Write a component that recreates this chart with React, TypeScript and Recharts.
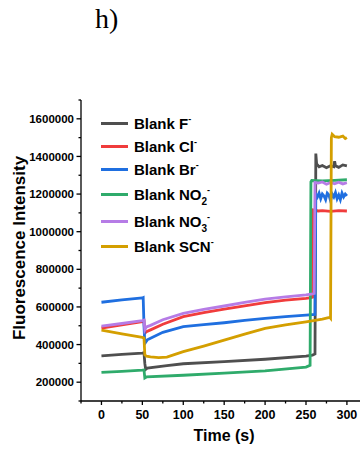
import React from "react";
import { LineChart, Line, XAxis, YAxis } from "recharts";

// time (s) / intensity pairs
const fTime = [0, 25, 50, 52, 53, 54, 56, 80, 100, 150, 200, 250, 258, 261, 262, 263, 266, 270, 275, 280, 284, 285, 286, 290, 295, 300];
const fValue = [340000, 348000, 355000, 357000, 300000, 268000, 275000, 288000, 298000, 309000, 322000, 339000, 344000, 350000, 1415000, 1360000, 1345000, 1352000, 1340000, 1350000, 1345000, 1375000, 1350000, 1342000, 1355000, 1350000];

const clTime = [0, 25, 50, 52, 53, 55, 60, 75, 100, 125, 150, 175, 200, 225, 250, 256, 258, 259, 265, 270, 280, 290, 300];
const clValue = [488000, 505000, 522000, 525000, 460000, 468000, 478000, 508000, 548000, 570000, 588000, 606000, 623000, 636000, 646000, 650000, 652000, 1115000, 1110000, 1112000, 1108000, 1112000, 1110000];

const brTime = [0, 25, 50, 51, 52, 53, 56, 60, 75, 100, 125, 150, 175, 200, 225, 250, 261, 262, 264, 266, 268, 270, 272, 274, 276, 278, 280, 282, 284, 286, 288, 290, 292, 294, 296, 298, 300];
const brValue = [625000, 637000, 648000, 650000, 500000, 406000, 425000, 434000, 465000, 495000, 506000, 516000, 528000, 539000, 548000, 557000, 560000, 1200000, 1185000, 1205000, 1175000, 1200000, 1190000, 1170000, 1205000, 1195000, 1165000, 1200000, 1185000, 1208000, 1175000, 1195000, 1170000, 1205000, 1185000, 1200000, 1190000];

const no2Time = [0, 25, 50, 52, 53, 55, 100, 150, 200, 250, 255, 256, 257, 270, 285, 300];
const no2Value = [252000, 258000, 264000, 265000, 223000, 228000, 237000, 248000, 260000, 280000, 290000, 1265000, 1272000, 1270000, 1273000, 1276000];

const no3Time = [0, 25, 50, 52, 53, 55, 60, 75, 100, 125, 150, 175, 200, 225, 250, 258, 260, 261, 265, 270, 275, 280, 285, 290, 295, 300];
const no3Value = [498000, 512000, 527000, 530000, 478000, 494000, 502000, 532000, 566000, 587000, 605000, 624000, 641000, 654000, 664000, 670000, 672000, 1262000, 1258000, 1264000, 1252000, 1262000, 1255000, 1263000, 1254000, 1260000];

const scnTime = [0, 25, 50, 52, 53, 55, 60, 70, 80, 100, 125, 150, 175, 200, 225, 250, 270, 279, 280, 281, 282, 285, 290, 295, 298, 300];
const scnValue = [477000, 457000, 438000, 435000, 345000, 338000, 335000, 331000, 333000, 362000, 392000, 424000, 455000, 486000, 505000, 521000, 535000, 545000, 540000, 1500000, 1518000, 1505000, 1502000, 1508000, 1495000, 1500000];

const xTicks = [-25, 0, 25, 50, 75, 100, 125, 150, 175, 200, 225, 250, 275, 300];
const xMajor = [0, 50, 100, 150, 200, 250, 300];
const yTicks = [100000, 200000, 300000, 400000, 500000, 600000, 700000, 800000, 900000, 1000000, 1100000, 1200000, 1300000, 1400000, 1500000, 1600000, 1700000];
const yMajor = [200000, 400000, 600000, 800000, 1000000, 1200000, 1400000, 1600000];

const toRows = (t: number[], v: number[]) => t.map((x, i) => ({ t: x, v: v[i] }));

const series = [
  { key: "F", color: "#4f4f4f", data: toRows(fTime, fValue) },
  { key: "Cl", color: "#f03c3c", data: toRows(clTime, clValue) },
  { key: "Br", color: "#1f6fe0", data: toRows(brTime, brValue) },
  { key: "NO2", color: "#2fab6b", data: toRows(no2Time, no2Value) },
  { key: "NO3", color: "#b67ce6", data: toRows(no3Time, no3Value) },
  { key: "SCN", color: "#d49f00", data: toRows(scnTime, scnValue) },
];

const FONT = "'Liberation Sans', Arial, sans-serif";

const sup = (s: string) => (
  <span style={{ fontSize: 9, position: "relative", top: -7 }}>{s}</span>
);
const sub = (s: string) => (
  <span style={{ fontSize: 10, position: "relative", top: 5 }}>{s}</span>
);

const labels: Record<string, React.ReactNode> = {
  F: <>Blank F{sup("-")}</>,
  Cl: <>Blank Cl{sup("-")}</>,
  Br: <>Blank Br{sup("-")}</>,
  NO2: <>Blank NO{sub("2")}{sup("-")}</>,
  NO3: <>Blank NO{sub("3")}{sup("-")}</>,
  SCN: <>Blank SCN{sup("-")}</>,
};
const rowHeights = [24, 23, 23, 27, 26, 24];

const XTick = (props: any) => {
  const { x, y, payload } = props;
  const major = xMajor.includes(payload.value);
  return (
    <g>
      <line x1={x} x2={x} y1={y} y2={y + (major ? 4 : 2.5)} stroke="#000" strokeWidth={1.3} />
      {major && (
        <text x={x} y={y + 18} textAnchor="middle" fontSize={12.5} fontWeight="bold" fontFamily={FONT} fill="#000">
          {payload.value}
        </text>
      )}
    </g>
  );
};

const YTick = (props: any) => {
  const { x, y, payload } = props;
  const major = yMajor.includes(payload.value);
  return (
    <g>
      <line x1={x} x2={x - (major ? 4.5 : 2.5)} y1={y} y2={y} stroke="#000" strokeWidth={1.3} />
      {major && (
        <text x={x - 7} y={y} dy="0.36em" textAnchor="end" fontSize={11.5} fontWeight="bold" fontFamily={FONT} fill="#000">
          {payload.value}
        </text>
      )}
    </g>
  );
};

const LegendBox = () => (
  <div
    style={{
      position: "absolute",
      left: 101,
      top: 111,
      fontFamily: FONT,
      fontWeight: "bold",
      fontSize: 15,
      color: "#000",
    }}
  >
    {series.map((s, i) => (
      <div key={s.key} style={{ height: rowHeights[i], display: "flex", alignItems: "center" }}>
        <span style={{ display: "inline-block", width: 27, height: 3, background: s.color, marginRight: 6 }} />
        <span style={{ whiteSpace: "nowrap" }}>{labels[s.key]}</span>
      </div>
    ))}
  </div>
);

export default function App() {
  return (
    <div style={{ position: "absolute", left: 0, top: 0, width: 361, height: 450, background: "#fff" }}>
      <div
        style={{
          position: "absolute",
          left: 95,
          top: 5,
          fontFamily: "'Liberation Serif', 'Times New Roman', serif",
          fontSize: 28,
          lineHeight: 1,
        }}
      >
        h)
      </div>
      <LineChart width={361} height={450} margin={{ top: 100, right: 1, bottom: 0, left: 0 }}>
        <XAxis
          dataKey="t"
          type="number"
          domain={[-25, 316]}
          ticks={xTicks}
          interval={0}
          height={49}
          tickSize={0}
          tickMargin={0}
          tickLine={false}
          tick={<XTick />}
          axisLine={{ stroke: "#000", strokeWidth: 1.3 }}
          label={{
            content: () => (
              <text x={224} y={441} textAnchor="middle" fontSize={16} fontWeight="bold" fontFamily={FONT} fill="#000">
                Time (s)
              </text>
            ),
          }}
          allowDuplicatedCategory={false}
        />
        <YAxis
          dataKey="v"
          type="number"
          domain={[100000, 1700000]}
          ticks={yTicks}
          interval={0}
          width={81}
          tickSize={0}
          tickMargin={0}
          tickLine={false}
          tick={<YTick />}
          axisLine={{ stroke: "#000", strokeWidth: 1.3 }}
          label={{
            content: () => (
              <text
                x={25}
                y={248}
                transform="rotate(-90 25 248)"
                textAnchor="middle"
                fontSize={17}
                fontWeight="bold"
                fontFamily={FONT}
                fill="#000"
              >
                Fluorescence Intensity
              </text>
            ),
          }}
        />
        {series.map((s) => (
          <Line
            key={s.key}
            data={s.data}
            dataKey="v"
            name={s.key}
            type="linear"
            stroke={s.color}
            strokeWidth={2.8}
            dot={false}
            isAnimationActive={false}
          />
        ))}
      </LineChart>
      <LegendBox />
    </div>
  );
}
